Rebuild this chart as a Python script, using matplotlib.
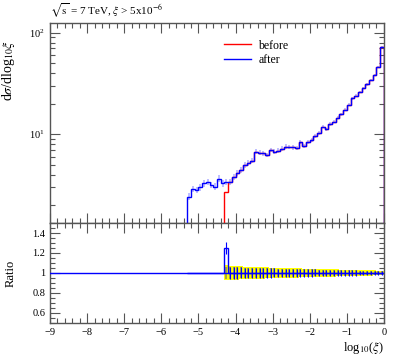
import matplotlib
matplotlib.use("Agg")
import matplotlib.pyplot as plt
from matplotlib.ticker import MultipleLocator, LogLocator, NullFormatter
import numpy as np

plt.rcParams["font.family"] = ["Liberation Serif", "DejaVu Serif"]
plt.rcParams["mathtext.fontset"] = "stix"

# bin edges: log10(xi) from -5.3 to 0 in steps of 0.1
edges = np.round(np.arange(-5.3, 0.0001, 0.1), 2)

# dsigma/dlog10(xi), "after"
after = [2.42, 2.9, 2.82, 3.0, 3.28, 3.4, 3.16, 3.04, 3.65, 3.28,
         3.4, 3.4, 3.81, 4.12, 4.44, 4.98, 5.18, 5.5, 6.73, 6.58,
         6.5, 6.24, 7.0, 6.73, 6.9, 7.2, 7.54, 7.45, 7.4, 7.3,
         8.45, 7.66, 8.45, 8.8, 9.6, 10.3, 11.9, 11.2, 12.6, 13.3,
         14.5, 15.8, 17.5, 19.5, 22.5, 24.0, 26.0, 28.5, 31.0, 34.0,
         38.0, 46.0, 72.0]
# "before" (empty below log10(xi) = -4.3)
before = [0, 0, 0, 0, 0, 0, 0, 0, 0, 0,
          2.72, 3.4, 3.81, 4.12, 4.44, 4.98, 5.18, 5.5, 6.73, 6.58,
          6.5, 6.24, 7.0, 6.73, 6.9, 7.2, 7.54, 7.45, 7.4, 7.3,
          8.45, 7.66, 8.45, 8.8, 9.6, 10.3, 11.9, 11.2, 12.6, 13.3,
          14.5, 15.8, 17.5, 19.5, 22.5, 24.0, 26.0, 28.5, 31.0, 34.0,
          38.0, 46.0, 72.0]
# relative uncertainties per bin
rel_err = [0.08, 0.075, 0.075, 0.075, 0.075, 0.075, 0.075, 0.075, 0.075, 0.075,
           0.075, 0.07, 0.068, 0.066, 0.065, 0.063, 0.062, 0.06, 0.058, 0.057,
           0.056, 0.055, 0.054, 0.053, 0.052, 0.05, 0.049, 0.048, 0.047, 0.046,
           0.045, 0.044, 0.043, 0.042, 0.041, 0.04, 0.039, 0.038, 0.037, 0.036,
           0.035, 0.034, 0.033, 0.032, 0.031, 0.03, 0.029, 0.028, 0.027, 0.026,
           0.025, 0.023, 0.02]

after = np.array(after)
before = np.array(before)
rel_err = np.array(rel_err)
centers = 0.5 * (edges[:-1] + edges[1:])
first = np.argmax(before > 0)
ratio = np.where(before > 0, after / np.where(before > 0, before, 1), 1.0)

fig = plt.figure(figsize=(3.97, 3.58), dpi=100)
ax = fig.add_axes([0.126, 0.377, 0.841, 0.559])
rax = fig.add_axes([0.126, 0.098, 0.841, 0.279])

ymin, ymax = 1.33, 125

# main panel
ax.vlines(centers, after * (1 - rel_err), after * (1 + rel_err),
          color="#8080ff", lw=1.2, alpha=0.6, zorder=2)
ax.stairs(before[first:], edges[first:], baseline=1e-3, color="red", lw=1.0,
          label="before", zorder=3)
ax.stairs(after, edges, baseline=1e-3, color="blue", lw=1.0, label="after", zorder=4)
ax.set_yscale("log")
ax.set_xlim(-9, 0)
ax.set_ylim(ymin, ymax)
ax.set_ylabel(r"d$\sigma$/dlog$_{10}\xi$", fontsize=10)
ax.yaxis.set_label_coords(-0.1, 0.76)
ax.text(0.0, 1.06, r"$\sqrt{\mathrm{s}}$ = 7 TeV, $\xi$ > 5x10$^{-6}$",
        transform=ax.transAxes, fontsize=8, ha="left", va="center")
ax.legend(loc="upper left", bbox_to_anchor=(0.49, 0.97), frameon=False,
          fontsize=8.5, handlelength=2.3, handletextpad=0.6, labelspacing=0.25)
ax.tick_params(labelbottom=False)
ax.yaxis.set_major_locator(LogLocator(base=10, numticks=5))
ax.yaxis.set_minor_locator(LogLocator(base=10, subs=np.arange(2, 10), numticks=10))
ax.yaxis.set_minor_formatter(NullFormatter())

# ratio panel
rax.axhline(1.0, color="blue", lw=1.0, zorder=3)
rax.stairs(1 + rel_err[first:], edges[first:], baseline=1 - rel_err[first:],
           fill=True, color="yellow", lw=0, zorder=1)
rax.vlines(centers[first:], 1 - 0.85 * rel_err[first:], 1 + 0.85 * rel_err[first:],
           color="#707070", lw=1.3, alpha=0.7, zorder=2)
rax.vlines(centers[first:], ratio[first:] - 0.85 * rel_err[first:],
           ratio[first:] + 0.85 * rel_err[first:], color="blue", lw=0.8, zorder=3)
rax.stairs(ratio, edges, baseline=None, color="blue", lw=1.0, zorder=4)
rax.set_xlim(-9, 0)
rax.set_ylim(0.5, 1.5)
rax.set_yticks([0.6, 0.8, 1.0, 1.2, 1.4])
rax.set_yticklabels(["0.6", "0.8", "1", "1.2", "1.4"])
rax.yaxis.set_minor_locator(MultipleLocator(0.05))
rax.set_ylabel("Ratio", fontsize=9)
rax.yaxis.set_label_coords(-0.1, 0.5)
rax.set_xlabel(r"log$_{10}$($\xi$)", fontsize=9, loc="right", labelpad=2)

for a in (ax, rax):
    a.xaxis.set_major_locator(MultipleLocator(1))
    a.xaxis.set_minor_locator(MultipleLocator(0.2))
    a.tick_params(which="both", direction="in", top=True, right=True,
                  color="#555555", labelsize=7.5)
    a.tick_params(which="major", length=7, width=0.8)
    a.tick_params(which="minor", length=3.5, width=0.8)
    for s in a.spines.values():
        s.set_color("#555555")
        s.set_linewidth(1.0)

fig.savefig("out.png", dpi=100)
